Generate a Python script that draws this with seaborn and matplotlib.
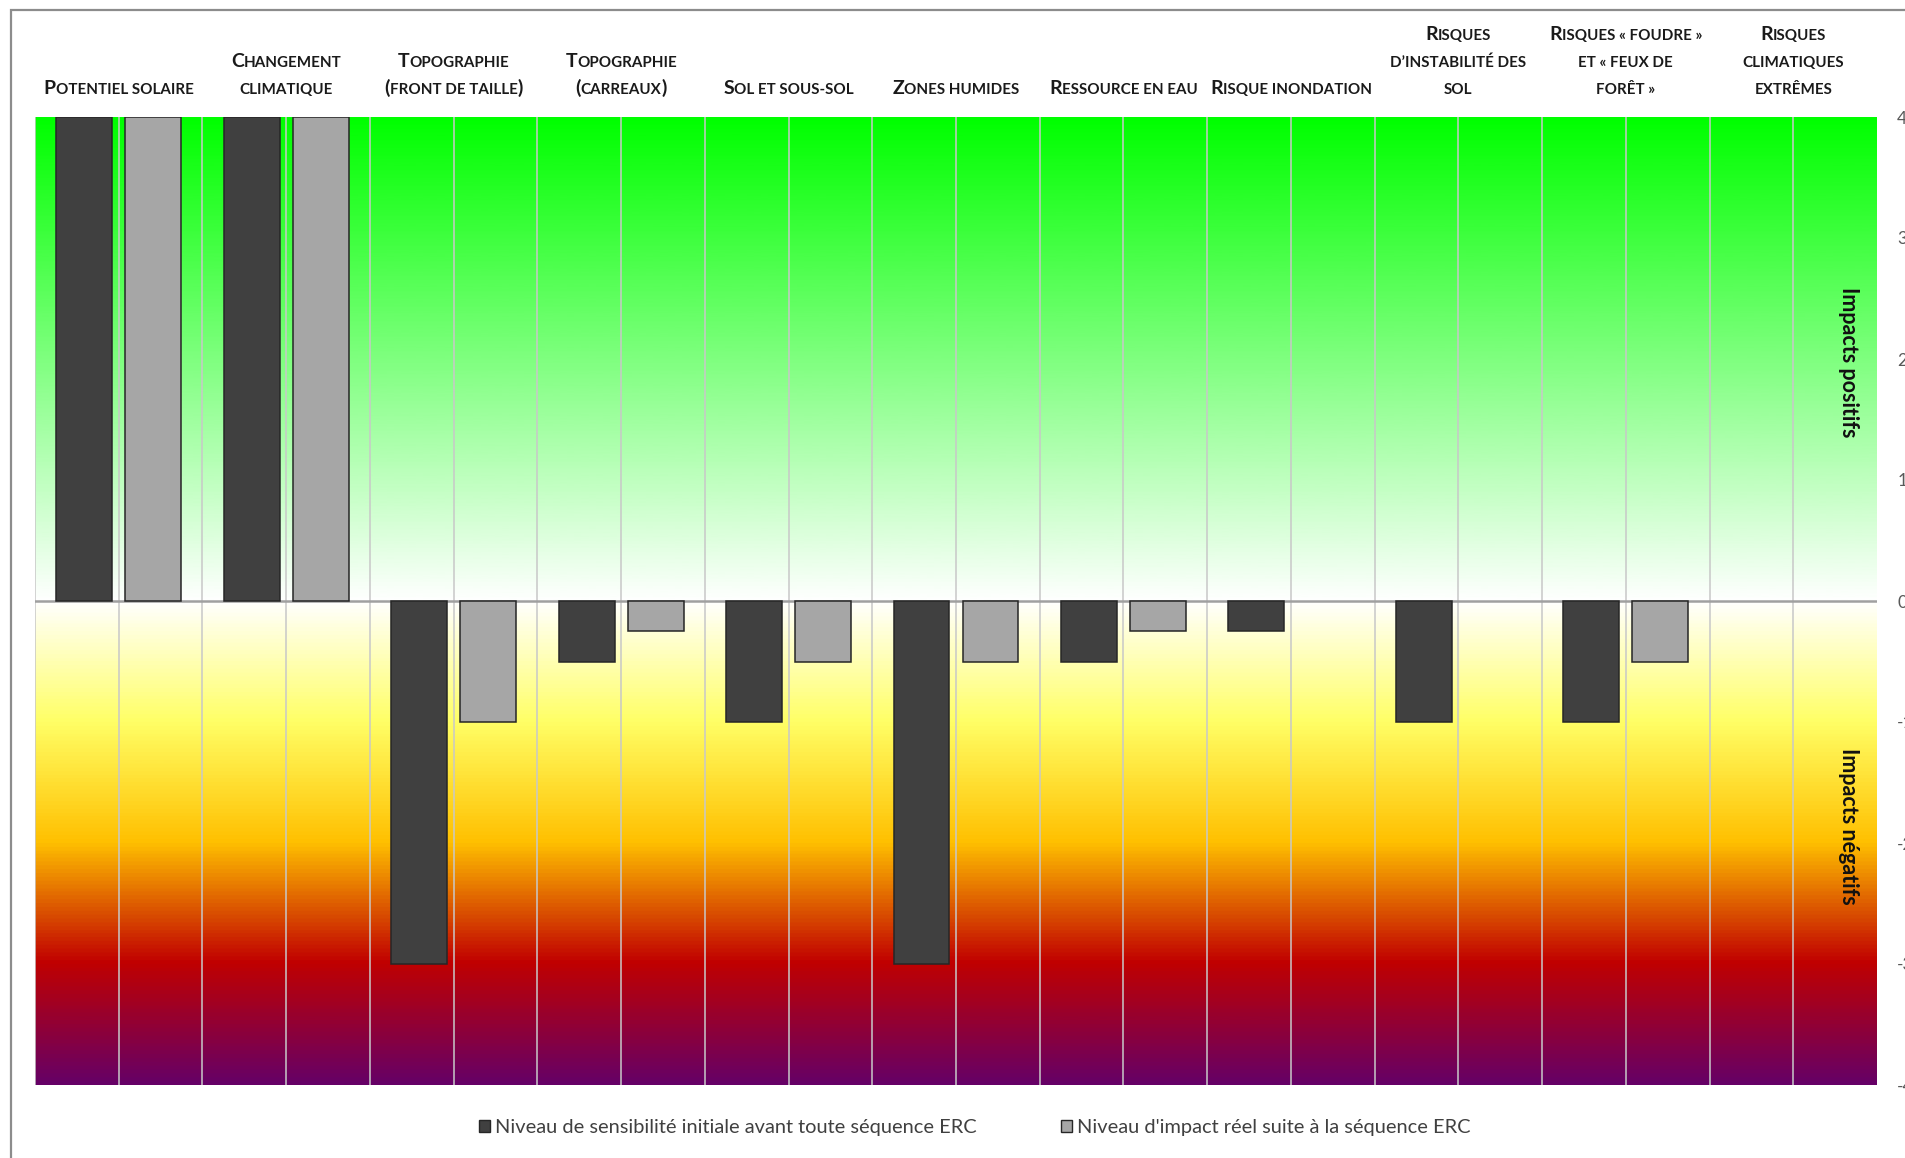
import numpy as np
import pandas as pd
import matplotlib
matplotlib.use("Agg")
import matplotlib.pyplot as plt
import seaborn as sns
from matplotlib.colors import LinearSegmentedColormap
from matplotlib.offsetbox import TextArea, HPacker, AnnotationBbox
from matplotlib.patches import Patch, Rectangle

# ---------------------------------------------------------------- data
categories = [
    "Potentiel solaire",
    "Changement climatique",
    "Topographie (front de taille)",
    "Topographie (carreaux)",
    "Sol et sous-sol",
    "Zones humides",
    "Ressource en eau",
    "Risque inondation",
    "Risques d’instabilité des sol",
    "Risques « foudre » et « feux de forêt »",
    "Risques climatiques extrêmes",
]

header_lines = [
    ["Potentiel solaire"],
    ["Changement", "climatique"],
    ["Topographie", "(front de taille)"],
    ["Topographie", "(carreaux)"],
    ["Sol et sous-sol"],
    ["Zones humides"],
    ["Ressource en eau"],
    ["Risque inondation"],
    ["Risques", "d’instabilité des", "sol"],
    ["Risques « foudre »", "et « feux de", "forêt »"],
    ["Risques", "climatiques", "extrêmes"],
]

sensibilite_initiale = [4, 4, -3, -0.5, -1, -3, -0.5, -0.25, -1, -1, 0]
impact_reel = [4, 4, -1, -0.25, -0.5, -0.5, -0.25, 0, 0, -0.5, 0]

series_names = [
    "Niveau de sensibilité initiale avant toute séquence ERC",
    "Niveau d'impact réel suite à la séquence ERC",
]
series_colors = ["#404040", "#A6A6A6"]

y_ticks = [4, 3, 2, 1, 0, -1, -2, -3, -4]

zone_labels = ["Impacts positifs", "Impacts négatifs"]
zone_label_y = [1.97, -1.86]

# ---------------------------------------------------------------- style
plt.rcParams["font.family"] = ["Lato", "DejaVu Sans"]
plt.rcParams["axes.unicode_minus"] = False

W, H = 1905, 1158
fig = plt.figure(figsize=(W / 100, H / 100), dpi=100)
fig.patch.set_facecolor("white")

left, right, top, bottom = 35, 1877, 117, 1085
ax = fig.add_axes([left / W, 1 - bottom / H, (right - left) / W, (bottom - top) / H])

n = len(categories)

# gradient background: green above zero, yellow -> red -> purple below
stops = [
    (-4, "#660066"),
    (-3, "#C00000"),
    (-2, "#FFC000"),
    (-1, "#FFFF66"),
    (0, "#FFFFFF"),
    (4, "#00FF00"),
]
cmap = LinearSegmentedColormap.from_list(
    "impact", [((v + 4) / 8, c) for v, c in stops]
)
grad = np.linspace(4, -4, 1000).reshape(-1, 1)
ax.imshow(grad, extent=(-0.5, n - 0.5, -4, 4), aspect="auto", cmap=cmap,
          vmin=-4, vmax=4, interpolation="bilinear", zorder=0)

# vertical separators between every bar slot
for xv in np.arange(-0.5, n - 0.5, 0.5):
    ax.axvline(xv, color="#C8C8C8", lw=1.3, alpha=0.85, zorder=1)
ax.axhline(0, color="#A0A0A0", lw=1.8, zorder=1.5)

# bars
df = pd.DataFrame({
    "categorie": categories * 2,
    "valeur": sensibilite_initiale + impact_reel,
    "serie": [series_names[0]] * n + [series_names[1]] * n,
})
sns.barplot(data=df, x="categorie", y="valeur", hue="serie", order=categories,
            hue_order=series_names, palette=series_colors, width=0.824, gap=0.19,
            edgecolor="#262626", linewidth=1.1, legend=False, ax=ax, zorder=3)
for p in ax.patches:
    if abs(p.get_height()) < 1e-9:
        p.set_linewidth(0)

ax.set_xlim(-0.5, n - 0.5)
ax.set_ylim(-4, 4)
ax.set_xlabel("")
ax.set_ylabel("")
ax.set_xticks([])
for s in ax.spines.values():
    s.set_visible(False)

ax.yaxis.tick_right()
ax.set_yticks(y_ticks)
ax.set_yticklabels([str(v) for v in y_ticks])
ax.tick_params(axis="y", length=0, pad=14.5, labelsize=12.5, labelcolor="#595959")

# zone labels on the right
for txt, yv in zip(zone_labels, zone_label_y):
    ax.text(10.33, yv, txt, rotation=-90, ha="center", va="center",
            fontsize=15.5, fontweight="bold", color="#111111", zorder=4)

# small-caps category headers
BIG, SMALL = 14.0, 10.9
txt_color = "#1a1a1a"


def small_caps_line(line, first):
    runs = []
    for i, ch in enumerate(line):
        big = (first and i == 0) or ch in "()"
        size = BIG if big else SMALL
        c = ch.upper()
        if runs and runs[-1][1] == size:
            runs[-1][0] += c
        else:
            runs.append([c, size])
    children = [TextArea(t, textprops=dict(size=s, weight="bold", color=txt_color,
                                           family=["Lato", "DejaVu Sans"]))
                for t, s in runs]
    return HPacker(children=children, align="baseline", pad=0, sep=0)


line_step = 19.4  # points between baselines
base_off = 14.6
for i, lines in enumerate(header_lines):
    nl = len(lines)
    for k, line in enumerate(lines):
        box = small_caps_line(line, first=(k == 0))
        off = base_off + (nl - 1 - k) * line_step
        ab = AnnotationBbox(box, (i, 1.0), xycoords=("data", "axes fraction"),
                            xybox=(0, off), boxcoords="offset points",
                            box_alignment=(0.5, 0), frameon=False,
                            annotation_clip=False, pad=0)
        ax.add_artist(ab)

# legend
handles = [Patch(facecolor=c, edgecolor="#262626", lw=1.0) for c in series_colors]
fig.legend(handles, series_names, loc="center", bbox_to_anchor=(0.5116, 1 - 1128 / H),
           ncol=2, frameon=False, fontsize=14.4, labelcolor="#404040",
           handlelength=0.55, handleheight=0.55, handletextpad=0.25,
           columnspacing=4.2)

# outer frame (only left and top edges fall inside the image)
fig.add_artist(Rectangle((10.5 / W, -0.1), 1.2, 1.1 - 9.5 / H,
                         transform=fig.transFigure, fill=False,
                         edgecolor="#8C8C8C", lw=1.6, clip_on=False))

fig.savefig("out.png", dpi=100, facecolor="white")
